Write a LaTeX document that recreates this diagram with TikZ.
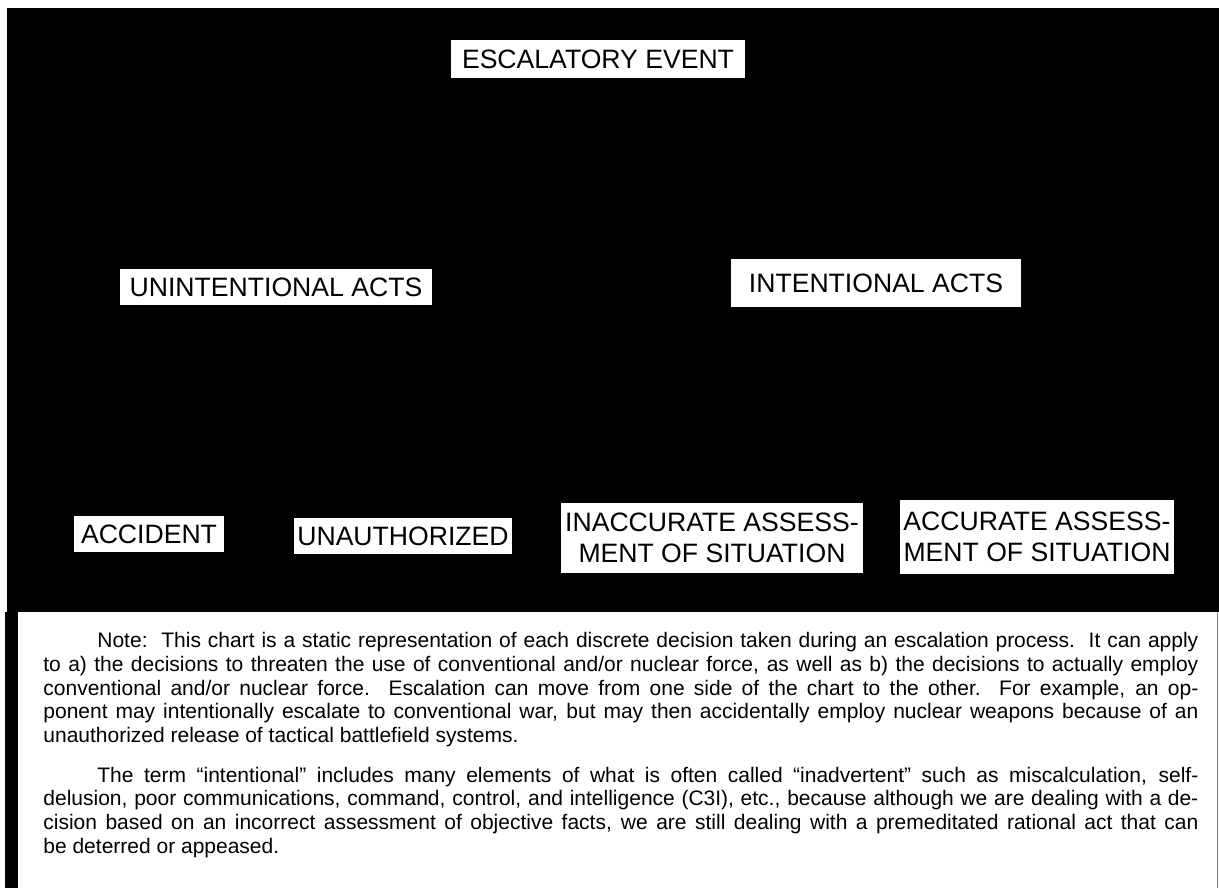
\documentclass[tikz,border=0pt]{standalone}
\usepackage{fontspec}
\setmainfont{Liberation Sans}
\usepackage{tikz}
\usetikzlibrary{positioning}

\begin{document}
\begin{tikzpicture}[x=0.5pt, y=-0.5pt, lbl/.style={fill=white, inner sep=0pt, font=\fontsize{13.3}{15.5}\selectfont, align=center}]
    \useasboundingbox (0,0) rectangle (1219,888);
    % black chart field
    \fill[black] (7,8) rectangle (1219,612);
    \fill[black] (5,612) rectangle (18,888);
    \draw[gray, very thin] (1217,612) -- (1217,888);
    \node[lbl, minimum width=147pt, minimum height=19pt](escal) at (598,59){ESCALATORY EVENT};
    \node[lbl, minimum width=156pt, minimum height=18pt](unint) at (276,287){UNINTENTIONAL ACTS};
    \node[lbl, minimum width=145pt, minimum height=24pt](intent) at (876,283){INTENTIONAL ACTS};
    \node[lbl, minimum width=75pt, minimum height=18pt](accid) at (149,534){ACCIDENT};
    \node[lbl, minimum width=109pt, minimum height=18pt](unauth) at (403,536){UNAUTHORIZED};
    \node[lbl, minimum width=151pt, minimum height=35pt](inacc) at (712,538){INACCURATE ASSESS-\\MENT OF SITUATION};
    \node[lbl, minimum width=137pt, minimum height=37pt](accur) at (1037,537){ACCURATE ASSESS-\\MENT OF SITUATION};
    % note below the chart
    \node[anchor=north west, inner sep=0pt, text width=577.5pt, align=justify, font=\fontsize{10.5}{11.85}\selectfont](note) at (43,632){%
      \hspace*{27pt}Note:\ \ This chart is a static representation of each discrete decision taken during an escalation process.\ \ It can apply\linebreak
      to a) the decisions to threaten the use of conventional and/or nuclear force, as well as b) the decisions to actually employ\linebreak
      conventional and/or nuclear force.\ \ Escalation can move from one side of the chart to the other.\ \ For example, an op-\linebreak
      ponent may intentionally escalate to conventional war, but may then accidentally employ nuclear weapons because of an\linebreak
      unauthorized release of tactical battlefield systems.\par\vspace{8pt}
      \hspace*{27pt}The term “intentional” includes many elements of what is often called “inadvertent” such as miscalculation, self-\linebreak
      delusion, poor communications, command, control, and intelligence (C3I), etc., because although we are dealing with a de-\linebreak
      cision based on an incorrect assessment of objective facts, we are still dealing with a premeditated rational act that can\linebreak
      be deterred or appeased.};
\end{tikzpicture}
\end{document}
